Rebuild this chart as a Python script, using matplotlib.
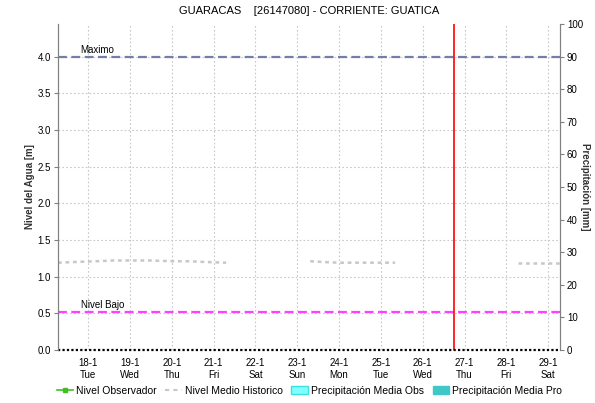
import matplotlib
matplotlib.use('Agg')
import matplotlib.pyplot as plt
from matplotlib.lines import Line2D
from matplotlib.patches import Patch

plt.rcParams['font.family'] = ['Liberation Sans', 'DejaVu Sans']

# days since 18-1 (tick at each day)
day_labels = ['18-1', '19-1', '20-1', '21-1', '22-1', '23-1', '24-1', '25-1', '26-1', '27-1', '28-1', '29-1']
weekday_labels = ['Tue', 'Wed', 'Thu', 'Fri', 'Sat', 'Sun', 'Mon', 'Tue', 'Wed', 'Thu', 'Fri', 'Sat']

# historical mean level, three pieces with gaps between them
hist_x1 = [-0.72, -0.3, 0.2, 0.6, 1.0, 1.5, 2.0, 2.4, 2.8, 3.3]
hist_y1 = [1.19, 1.20, 1.21, 1.22, 1.22, 1.22, 1.21, 1.21, 1.20, 1.19]
hist_x2 = [5.31, 5.6, 6.0, 6.6, 7.34]
hist_y2 = [1.21, 1.20, 1.19, 1.19, 1.19]
hist_x3 = [10.29, 10.8, 11.28]
hist_y3 = [1.19, 1.19, 1.19]

nivel_maximo = 4.0
nivel_bajo = 0.52
now_x = 8.76

fig = plt.figure(figsize=(5.95, 4.03), dpi=100)
ax = fig.add_axes([0.0975, 0.1315, 0.8435, 0.809])
ax2 = ax.twinx()

ax.set_xlim(-0.72, 11.28)
ax.set_ylim(0, 4.444)
ax2.set_ylim(0, 100)

ax.grid(True, color='#c8c8c8', linestyle=(0, (1.5, 2)), linewidth=0.8)

for hx, hy in [(hist_x1, hist_y1), (hist_x2, hist_y2), (hist_x3, hist_y3)]:
    ax.plot(hx, hy, color='#c8c8c8', linestyle=(0, (1.5, 1.5)), linewidth=1.8)

ax.axhline(nivel_maximo, color='#7080a8', linestyle=(0, (4, 2)), linewidth=1.6)
ax.axhline(nivel_bajo, color='#ff40ff', linestyle=(0, (4, 2)), linewidth=1.6)
ax.text(-0.18, nivel_maximo + 0.02, 'Maximo', fontsize=7, va='bottom')
ax.text(-0.18, nivel_bajo + 0.02, 'Nivel Bajo', fontsize=7, va='bottom')
ax.axvline(now_x, color='red', linewidth=1.2)

ax.set_xticks(range(len(day_labels)))
ax.set_xticklabels([d + '\n' + w for d, w in zip(day_labels, weekday_labels)], fontsize=7)
ax.set_yticks([0, 0.5, 1.0, 1.5, 2.0, 2.5, 3.0, 3.5, 4.0])
ax.set_yticklabels(['0.0', '0.5', '1.0', '1.5', '2.0', '2.5', '3.0', '3.5', '4.0'], fontsize=7)
ax2.set_yticks(range(0, 101, 10))
ax2.tick_params(axis='y', labelsize=7, length=3, color='#808080', pad=2)
ax.tick_params(axis='y', length=3, color='#808080', pad=2)
ax.tick_params(axis='x', length=0, pad=6)

for a in (ax, ax2):
    a.spines['top'].set_visible(False)
    a.spines['left'].set_color('#808080')
    a.spines['right'].set_color('#808080')
    a.spines['bottom'].set_visible(False)
ax.axhline(0, color='black', linestyle=(0, (1, 1)), linewidth=1.6, clip_on=False)

ax.set_ylabel('Nivel del Agua [m]', fontsize=7, fontweight='bold', color='#333333')
ax.yaxis.set_label_coords(-0.045, 0.5)
ax2.set_ylabel('Precipitación [mm]', fontsize=7, fontweight='bold', color='#333333', rotation=-90, va='center')
ax2.yaxis.set_label_coords(1.05, 0.5)

fig.suptitle('GUARACAS    [26147080] - CORRIENTE: GUATICA', fontsize=8, x=0.52, y=0.985)

handles = [
    Line2D([], [], color='#40c020', marker='s', markersize=3, linewidth=1.2),
    Line2D([], [], color='#c8c8c8', linestyle=(0, (2, 2)), linewidth=1.5),
    Patch(facecolor='#80ffff', edgecolor='#40e0e0'),
    Patch(facecolor='#40c8c8', edgecolor='#40c8c8'),
]
labels = ['Nivel Observador', 'Nivel Medio Historico', 'Precipitación Media Obs', 'Precipitación Media Pro']
fig.legend(handles, labels, loc='lower center', bbox_to_anchor=(0.52, -0.005), ncol=4, frameon=False,
           fontsize=7.5, handlelength=1.6, handletextpad=0.3, columnspacing=0.8, handleheight=0.9)

fig.savefig('out.png', dpi=100)
